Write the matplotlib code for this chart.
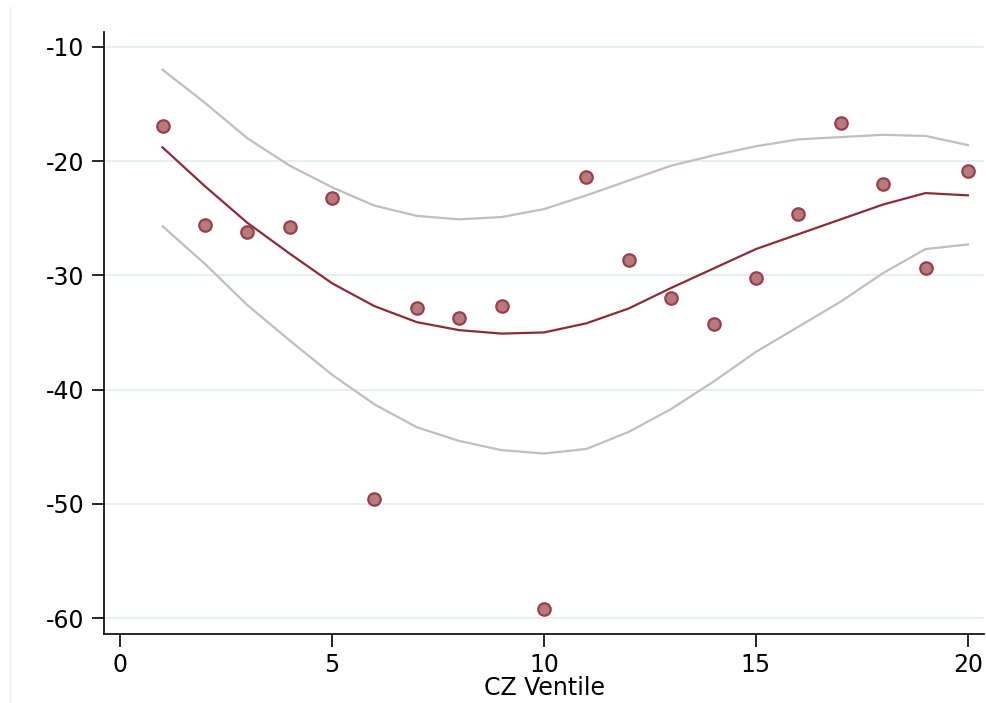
# binscatter of outcome by CZ ventile with fitted line and CI bands
import matplotlib.pyplot as plt
from matplotlib.lines import Line2D

ventile = list(range(1, 21))

# binned means
bin_means = [-16.9, -25.6, -26.2, -25.8, -23.2, -49.6, -32.9, -33.7, -32.7, -59.2,
             -21.4, -28.7, -32.0, -34.3, -30.2, -24.6, -16.7, -22.0, -29.4, -20.9]

# fitted values and confidence bounds
fit = [-18.8, -22.2, -25.4, -28.1, -30.7, -32.7, -34.1, -34.8, -35.1, -35.0,
       -34.2, -32.9, -31.1, -29.4, -27.7, -26.4, -25.1, -23.8, -22.8, -23.0]
ci_upper = [-12.0, -14.9, -18.0, -20.4, -22.3, -23.9, -24.8, -25.1, -24.9, -24.2,
            -23.0, -21.7, -20.4, -19.5, -18.7, -18.1, -17.9, -17.7, -17.8, -18.6]
ci_lower = [-25.7, -29.0, -32.6, -35.7, -38.7, -41.3, -43.3, -44.5, -45.3, -45.6,
            -45.2, -43.7, -41.7, -39.3, -36.7, -34.5, -32.3, -29.8, -27.7, -27.3]

x_ticks = [0, 5, 10, 15, 20]
y_ticks = [-10, -20, -30, -40, -50, -60]

plt.rcParams['font.family'] = 'DejaVu Sans'
plt.rcParams['axes.unicode_minus'] = False

fig = plt.figure(figsize=(9.87, 7.03), dpi=100)
ax = fig.add_axes([0.1054, 0.0981, 0.8916, 0.8564])

# faint border line on the left of the graph region
fig.add_artist(Line2D([0.0101, 0.0101], [0.0, 0.99], color="#eeeeee", lw=1))

ax.plot(ventile, ci_upper, color="#c0bebe", lw=1.6, zorder=2)
ax.plot(ventile, ci_lower, color="#c0bebe", lw=1.6, zorder=2)
ax.plot(ventile, fit, color="#8c2d36", lw=1.6, zorder=3)
ax.scatter(ventile, bin_means, s=80, facecolor="#b77a81", edgecolor="#9a3f48",
           linewidth=1.6, zorder=4)

ax.set_xlim(-0.38, 20.38)
ax.set_ylim(-61.4, -8.7)
ax.set_xticks(x_ticks)
ax.set_yticks(y_ticks)
ax.yaxis.grid(True, color="#e6eef2", lw=1.3)
ax.set_axisbelow(True)

for side in ["top", "right"]:
    ax.spines[side].set_visible(False)
ax.spines["left"].set_linewidth(1.2)
ax.spines["bottom"].set_linewidth(1.2)
ax.tick_params(axis="both", labelsize=17, length=9, width=1.2, pad=5)

ax.set_xlabel("CZ Ventile", fontsize=17, labelpad=-1)

fig.savefig("out.png", dpi=100)
